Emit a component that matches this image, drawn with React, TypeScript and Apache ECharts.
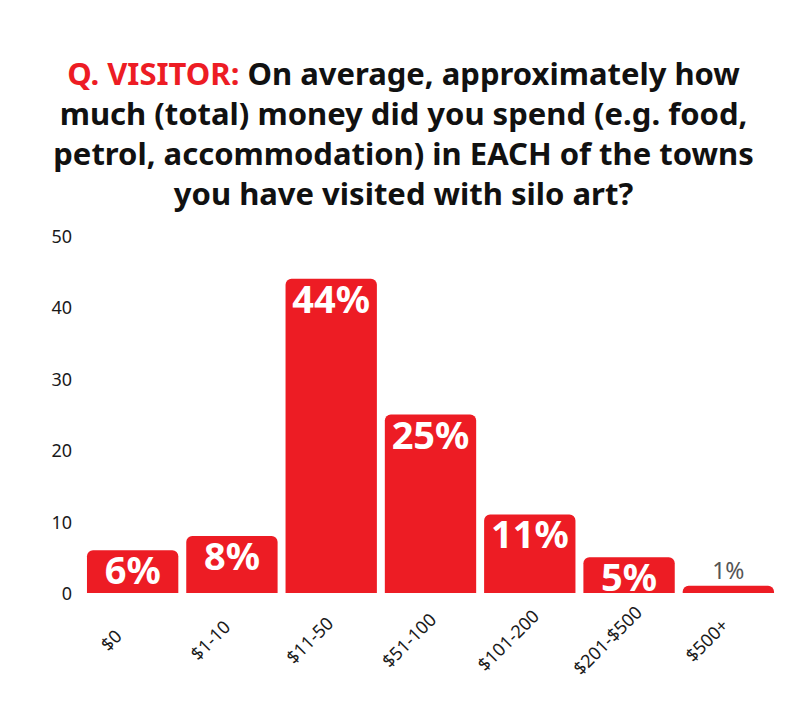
import React, { useEffect, useRef } from "react";
import * as echarts from "echarts";

const categories = ["$0", "$1-10", "$11-50", "$51-100", "$101-200", "$201-$500", "$500+"];
const values = [6, 8, 44, 25, 11, 5, 1];
const yTicks = { min: 0, max: 50, interval: 10 };
const titleLines = [
  ["Q. VISITOR:", " On average, approximately how"],
  ["", "much (total) money did you spend (e.g. food,"],
  ["", "petrol, accommodation) in EACH of the towns"],
  ["", "you have visited with silo art?"],
];

const RED = "#ed1c24";
const FONT = "Noto Sans";

export default function App() {
  const ref = useRef<HTMLDivElement>(null);
  useEffect(() => {
    if (!ref.current) return;
    const chart = echarts.init(ref.current, null, { renderer: "svg" });
    const titleText = titleLines
      .map(([r, b]) => (r ? `{r|${r}}` : "") + `{b|${b}}`)
      .join("\n");
    chart.setOption({
      animation: false,
      backgroundColor: "#ffffff",
      title: {
        text: titleText,
        left: "center",
        top: 40,
        textStyle: {
          rich: {
            r: { fontFamily: FONT, fontWeight: "bold", fontSize: 31, color: RED, lineHeight: 40 },
            b: { fontFamily: FONT, fontWeight: "bold", fontSize: 31, color: "#111111", lineHeight: 40 },
          },
        },
      },
      grid: { left: 75, right: 21, top: 228, bottom: 117 },
      xAxis: {
        type: "category",
        data: categories,
        axisLine: { show: false },
        axisTick: { show: false },
        axisLabel: {
          rotate: 45,
          margin: 25,
          align: "center",
          verticalAlign: "middle",
          padding: [0, 62, 0, 0],
          fontFamily: FONT,
          fontSize: 18,
          color: "#1a1a1a",
        },
      },
      yAxis: {
        type: "value",
        min: yTicks.min,
        max: yTicks.max,
        interval: yTicks.interval,
        splitLine: { show: false },
        axisLine: { show: false },
        axisTick: { show: false },
        axisLabel: { fontFamily: FONT, fontSize: 18, color: "#1a1a1a", margin: 11 },
      },
      series: [
        {
          type: "bar",
          data: values.map((v) => ({
            value: v,
            label:
              v < 3
                ? {
                    show: true,
                    position: "top",
                    distance: 1,
                    color: "#555555",
                    fontWeight: "normal",
                    fontSize: 23,
                    fontFamily: FONT,
                  }
                : undefined,
          })),
          barCategoryGap: "8%",
          itemStyle: { color: RED, borderRadius: [6, 6, 0, 0] },
          label: {
            show: true,
            position: "insideTop",
            distance: 0,
            padding: [0, 0, 3, 0],
            formatter: "{c}%",
            color: "#ffffff",
            fontFamily: FONT,
            fontWeight: "bold",
            fontSize: 38,
          },
        },
      ],
    });
    return () => chart.dispose();
  }, []);
  return (
    <div
      ref={ref}
      style={{
        width: 791,
        height: 702,
        boxShadow: "-3px 0 4px rgba(0,0,0,0.18)",
      }}
    />
  );
}
